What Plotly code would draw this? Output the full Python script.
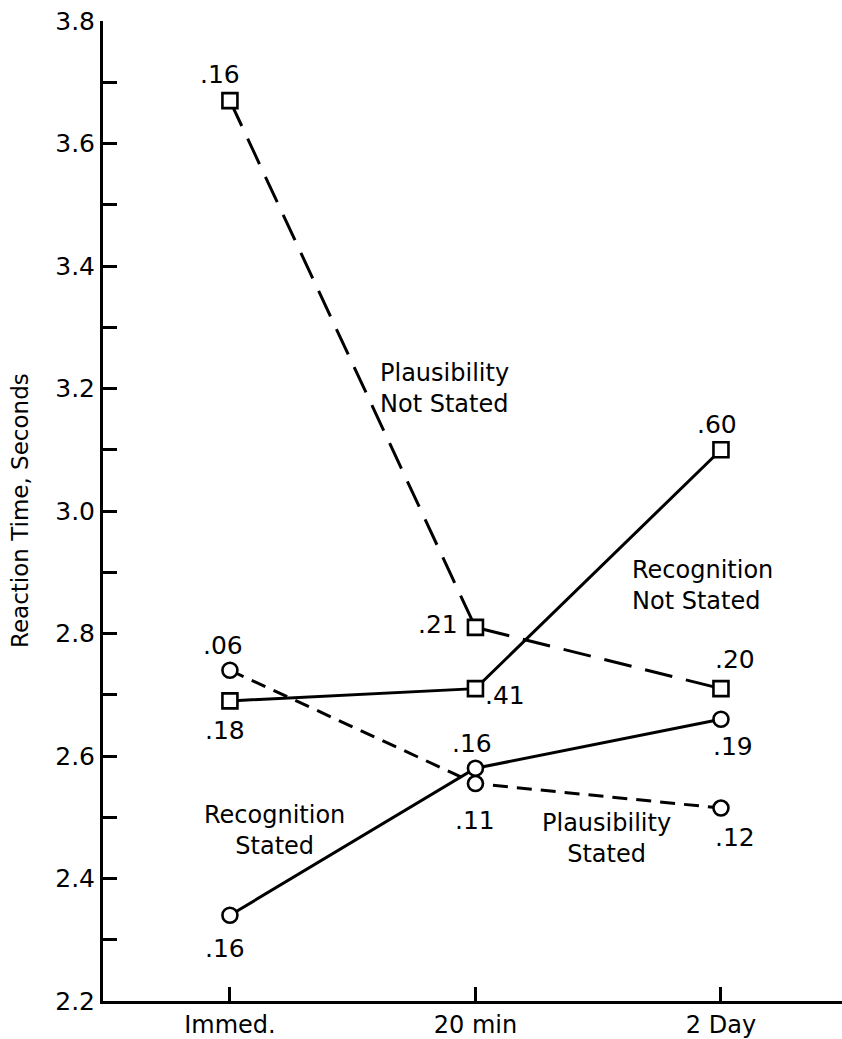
import plotly.graph_objects as go

# ---- data ----
categories = ["Immed.", "20 min", "2 Day"]
plaus_not_stated = [3.67, 2.81, 2.71]
recog_not_stated = [2.69, 2.71, 3.10]
plaus_stated = [2.74, 2.555, 2.515]
recog_stated = [2.34, 2.58, 2.66]

plaus_not_stated_lbl = [".16", ".21", ".20"]
recog_not_stated_lbl = [".18", ".41", ".60"]
plaus_stated_lbl = [".06", ".11", ".12"]
recog_stated_lbl = [".16", ".16", ".19"]

y_ticks = [2.2, 2.4, 2.6, 2.8, 3.0, 3.2, 3.4, 3.6, 3.8]

FONT = "DejaVu Sans"
xs = list(range(len(categories)))

fig = go.Figure()

series = [
    (plaus_not_stated, "square", "28px,14px"),
    (recog_not_stated, "square", "solid"),
    (plaus_stated, "circle", "15px,9px"),
    (recog_stated, "circle", "solid"),
]
for vals, sym, dash in series:
    fig.add_trace(go.Scatter(
        x=xs, y=vals, mode="lines+markers",
        line=dict(color="black", width=3, dash=dash),
        marker=dict(symbol=sym, size=15, color="white",
                    line=dict(color="black", width=2.6)),
        showlegend=False, hoverinfo="skip",
    ))

# value label offsets (pixels) per series
offsets = [
    (plaus_not_stated, plaus_not_stated_lbl, [(-10, 26), (-37, 3), (14, 29)]),
    (recog_not_stated, recog_not_stated_lbl, [(-5, -30), (30, -7), (-4, 25)]),
    (plaus_stated, plaus_stated_lbl, [(-7, 25), (0, -37), (14, -29)]),
    (recog_stated, recog_stated_lbl, [(-5, -33), (-3, 25), (12, -27)]),
]
annotations = []
for vals, lbls, offs in offsets:
    for i, (v, t, (dx, dy)) in enumerate(zip(vals, lbls, offs)):
        annotations.append(dict(
            x=xs[i], y=v, text=t, showarrow=False, xshift=dx, yshift=dy,
            font=dict(family=FONT, size=25, color="black"),
        ))

# series name labels
names = [
    ("Plausibility<br>Not Stated", 0.603, 3.20, "left", "left"),
    ("Recognition<br>Not Stated", 1.629, 2.879, "left", "left"),
    ("Recognition<br>Stated", 0.183, 2.478, "center", "center"),
    ("Plausibility<br>Stated", 1.532, 2.465, "center", "center"),
]
for t, x, y, anchor, align in names:
    annotations.append(dict(
        x=x, y=y, text=t, showarrow=False, xanchor=anchor, align=align,
        yanchor="middle",
        font=dict(family=FONT, size=24, color="black"),
    ))

# y-axis title
annotations.append(dict(
    xref="paper", yref="paper", x=-0.1123, y=0.5, text="Reaction Time, Seconds",
    textangle=-90, showarrow=False, xanchor="center", yanchor="middle",
    font=dict(family=FONT, size=23, color="black"),
))

fig.update_layout(
    width=842, height=1039,
    margin=dict(l=103, r=0, t=21, b=35),
    plot_bgcolor="white", paper_bgcolor="white",
    annotations=annotations,
    xaxis=dict(
        range=[-0.517, 2.493], tickmode="array", tickvals=xs, ticktext=categories,
        showline=True, linecolor="black", linewidth=3, showgrid=False, zeroline=False,
        ticks="inside", ticklen=14, tickwidth=2.5, tickcolor="black",
        tickfont=dict(family=FONT, size=24, color="black"),
    ),
    yaxis=dict(
        range=[2.2, 3.8], tickmode="array", tickvals=y_ticks, tickformat=".1f",
        showline=True, linecolor="black", linewidth=3, showgrid=False, zeroline=False,
        ticks="inside", ticklen=14, tickwidth=2.5, tickcolor="black",
        tickfont=dict(family=FONT, size=25, color="black"),
        minor=dict(dtick=0.1, tick0=2.2, ticks="inside", ticklen=14, tickwidth=2.5,
                   tickcolor="black", showgrid=False),
    ),
)

fig.write_html("out.html")
